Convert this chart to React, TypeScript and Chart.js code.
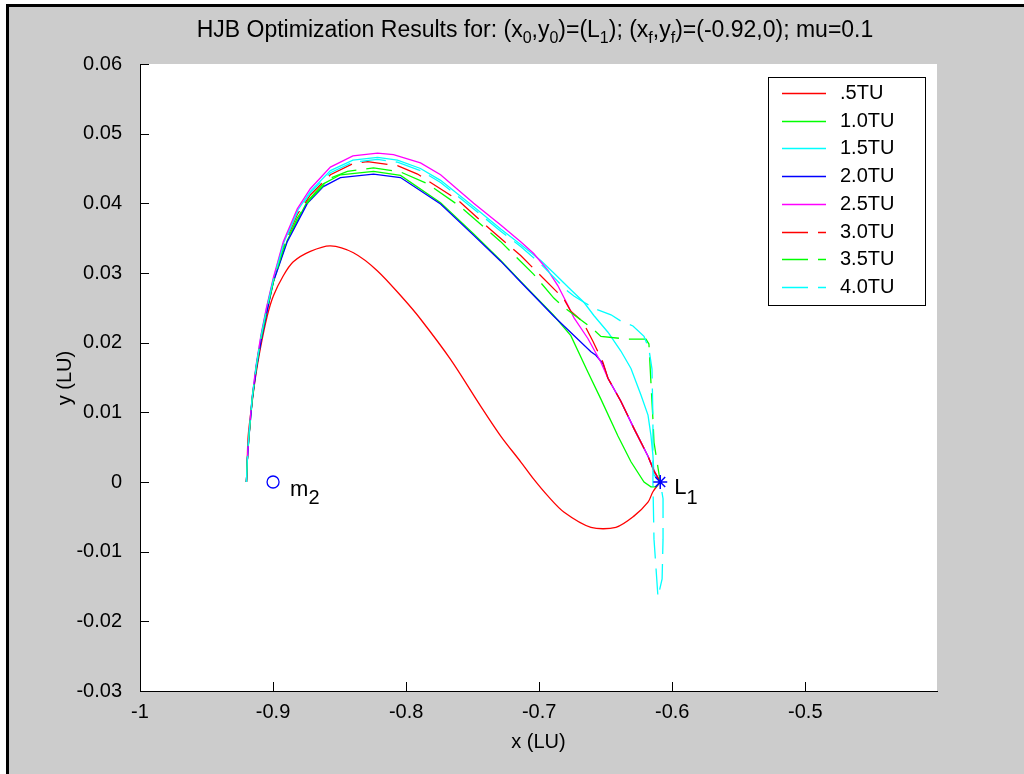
import React, { useEffect, useRef } from "react";
import { Chart, registerables } from "chart.js";

Chart.register(...registerables);

// ---------- data (LU) ----------
const seriesLabels = [".5TU", "1.0TU", "1.5TU", "2.0TU", "2.5TU", "3.0TU", "3.5TU", "4.0TU"];
const seriesColors = ["#ff0000", "#00ff00", "#00ffff", "#0000ff", "#ff00ff", "#ff0000", "#00ff00", "#00ffff"];
const seriesDashed = [false, false, false, false, false, true, true, true];
const seriesTension = [0.3, 0, 0, 0, 0, 0, 0, 0];

const t05X = [-0.92, -0.9194, -0.9187, -0.9157, -0.9134, -0.9096, -0.9044, -0.8998, -0.8923, -0.8848, -0.872, -0.8569, -0.8396, -0.8215, -0.802, -0.7892, -0.7666, -0.744, -0.7289, -0.7139, -0.7041, -0.6935, -0.6815, -0.6611, -0.6423, -0.6288, -0.6182, -0.6145, -0.609];
const t05Y = [0, 0.0029, 0.0066, 0.0115, 0.0148, 0.0191, 0.0238, 0.0267, 0.0296, 0.0316, 0.0331, 0.0339, 0.0329, 0.0303, 0.0263, 0.0234, 0.0176, 0.0109, 0.0066, 0.0029, 0.0004, -0.002, -0.0043, -0.0065, -0.0065, -0.0049, -0.0029, -0.0014, 0];

const t10X = [-0.92, -0.9194, -0.9183, -0.9157, -0.9127, -0.909, -0.905, -0.8998, -0.8893, -0.8742, -0.8622, -0.8494, -0.8245, -0.8042, -0.7741, -0.7492, -0.7289, -0.7139, -0.689, -0.6762, -0.6634, -0.6536, -0.6408, -0.631, -0.6212, -0.616, -0.6122, -0.609];
const t10Y = [0, 0.0029, 0.0061, 0.0118, 0.0163, 0.0205, 0.0242, 0.0288, 0.0347, 0.0403, 0.0428, 0.0441, 0.0446, 0.044, 0.0401, 0.0356, 0.0318, 0.0288, 0.0239, 0.021, 0.0158, 0.0119, 0.0066, 0.0029, 0, -0.0007, -0.0007, 0];

const t15X = [-0.92, -0.9194, -0.9183, -0.9157, -0.9127, -0.909, -0.905, -0.8998, -0.8923, -0.8818, -0.872, -0.8569, -0.84, -0.8215, -0.8065, -0.7892, -0.7741, -0.7492, -0.7289, -0.7139, -0.6988, -0.689, -0.6762, -0.6664, -0.6589, -0.6483, -0.6386, -0.631, -0.6235, -0.6182, -0.616, -0.6145, -0.6137, -0.609];
const t15Y = [0, 0.003, 0.0064, 0.0121, 0.0166, 0.021, 0.0248, 0.0291, 0.0342, 0.0389, 0.0417, 0.0447, 0.0462, 0.0466, 0.0462, 0.045, 0.0433, 0.0395, 0.0363, 0.0341, 0.0318, 0.03, 0.0276, 0.0258, 0.0239, 0.0215, 0.0188, 0.0163, 0.0125, 0.0096, 0.0067, 0.0038, 0.001, 0];

const t20X = [-0.92, -0.9194, -0.9183, -0.9157, -0.9127, -0.909, -0.905, -0.8998, -0.8893, -0.8742, -0.8622, -0.8494, -0.8245, -0.8042, -0.7741, -0.7492, -0.7289, -0.7139, -0.689, -0.6611, -0.6574, -0.6521, -0.6483, -0.6386, -0.6288, -0.6182, -0.6137, -0.609];
const t20Y = [0, 0.0028, 0.006, 0.0117, 0.0161, 0.0203, 0.024, 0.0287, 0.0345, 0.04, 0.0424, 0.0437, 0.0442, 0.0437, 0.0399, 0.0354, 0.0317, 0.0287, 0.0238, 0.0187, 0.0182, 0.017, 0.0149, 0.0116, 0.0077, 0.0037, 0.0016, 0];

const t25X = [-0.92, -0.9194, -0.9183, -0.9157, -0.9127, -0.909, -0.905, -0.8998, -0.8923, -0.8818, -0.872, -0.8569, -0.84, -0.8215, -0.8095, -0.7892, -0.7741, -0.7492, -0.7289, -0.7139, -0.7041, -0.6935, -0.686, -0.6785, -0.6739, -0.6634, -0.6536, -0.6483, -0.6386, -0.6288, -0.6182, -0.6137, -0.609];
const t25Y = [0, 0.003, 0.0065, 0.0122, 0.0168, 0.0212, 0.025, 0.0293, 0.0345, 0.0392, 0.0421, 0.0452, 0.0468, 0.0472, 0.047, 0.0458, 0.0441, 0.04, 0.0369, 0.0345, 0.0328, 0.0304, 0.0282, 0.0254, 0.0236, 0.0206, 0.0172, 0.0149, 0.0116, 0.0077, 0.0037, 0.0016, 0];

const t30X = [-0.92, -0.9194, -0.9183, -0.9157, -0.9127, -0.909, -0.905, -0.8998, -0.8923, -0.8818, -0.872, -0.8569, -0.84, -0.8291, -0.8065, -0.7914, -0.7613, -0.7364, -0.7139, -0.7003, -0.6815, -0.6762, -0.6672, -0.6596, -0.6521, -0.6483, -0.6386, -0.6288, -0.6182, -0.6137, -0.609];
const t30Y = [0, 0.0029, 0.0062, 0.012, 0.0165, 0.0208, 0.0246, 0.0289, 0.0338, 0.0384, 0.0412, 0.0441, 0.0457, 0.046, 0.0454, 0.0442, 0.0405, 0.0362, 0.0325, 0.0299, 0.0263, 0.0245, 0.023, 0.0202, 0.0172, 0.0149, 0.0116, 0.0077, 0.0037, 0.0016, 0];

const t35X = [-0.92, -0.9194, -0.9183, -0.9157, -0.9127, -0.909, -0.905, -0.8998, -0.8923, -0.8818, -0.872, -0.8569, -0.8441, -0.8245, -0.8042, -0.7839, -0.759, -0.7289, -0.7041, -0.689, -0.6815, -0.6611, -0.6536, -0.6333, -0.6197, -0.6175, -0.616, -0.6145, -0.6137, -0.609];
const t35Y = [0, 0.0029, 0.0062, 0.0119, 0.0164, 0.0206, 0.0244, 0.0287, 0.0335, 0.0379, 0.0406, 0.0436, 0.0446, 0.0451, 0.0445, 0.0428, 0.0395, 0.0345, 0.0298, 0.0264, 0.0251, 0.0222, 0.0209, 0.0205, 0.0205, 0.0198, 0.0143, 0.009, 0.0057, 0];

const t40X = [-0.92, -0.9194, -0.9183, -0.9157, -0.9127, -0.909, -0.905, -0.8998, -0.8923, -0.8818, -0.872, -0.8569, -0.84, -0.8215, -0.8065, -0.7892, -0.7741, -0.7492, -0.7289, -0.7139, -0.6988, -0.689, -0.68, -0.6739, -0.6664, -0.6574, -0.646, -0.6386, -0.6295, -0.6212, -0.6175, -0.6152, -0.6145, -0.6145, -0.6137, -0.6107, -0.6076, -0.6069, -0.6069, -0.609];
const t40Y = [0, 0.003, 0.0063, 0.0121, 0.0166, 0.0209, 0.0247, 0.029, 0.034, 0.0387, 0.0415, 0.0444, 0.0459, 0.0463, 0.0459, 0.0447, 0.043, 0.0392, 0.036, 0.0338, 0.0313, 0.0294, 0.0276, 0.0267, 0.0258, 0.0248, 0.024, 0.0231, 0.0224, 0.0209, 0.0191, 0.0162, 0.009, 0, -0.0082, -0.0165, -0.0139, -0.0082, -0.0024, 0];

const seriesX = [t05X, t10X, t15X, t20X, t25X, t30X, t35X, t40X];
const seriesY = [t05Y, t10Y, t15Y, t20Y, t25Y, t30Y, t35Y, t40Y];

const m2Point = { x: -0.9, y: 0 };
const l1Point = { x: -0.609, y: 0 };

const xMin = -1;
const xMax = -0.401;
const xStep = 0.1;
const yMin = -0.03;
const yMax = 0.06;
const yStep = 0.01;

const titleParts: [string, boolean][] = [
  ["HJB Optimization Results for: (x", false],
  ["0", true],
  [",y", false],
  ["0", true],
  [")=(L", false],
  ["1", true],
  ["); (x", false],
  ["f", true],
  [",y", false],
  ["f", true],
  [")=(-0.92,0); mu=0.1", false],
];
const xAxisLabel = "x (LU)";
const yAxisLabel = "y (LU)";

const FONT = '"Liberation Sans", Arial, Helvetica, sans-serif';
const FS = 20;
const TITLE_FS = 23;

const decoPlugin = {
  id: "deco",
  beforeDraw(chart: any) {
    const { ctx, width, height, chartArea: ca } = chart;
    ctx.save();
    ctx.fillStyle = "#ffffff";
    ctx.fillRect(0, 0, width, height);
    ctx.fillStyle = "#cccccc";
    ctx.fillRect(9, 7, width - 9, height - 7);
    ctx.fillStyle = "#000000";
    ctx.fillRect(6, 4, 3, height - 4);
    ctx.fillRect(6, 4, width - 6, 3);
    ctx.fillStyle = "#ffffff";
    ctx.fillRect(ca.left, ca.top, ca.right - ca.left, ca.bottom - ca.top);
    ctx.restore();
  },
  afterDraw(chart: any) {
    const { ctx, chartArea: ca } = chart;
    const xs = chart.scales.x;
    const ys = chart.scales.y;
    ctx.save();
    // inward ticks
    ctx.strokeStyle = "#000";
    ctx.lineWidth = 1;
    ctx.beginPath();
    xs.ticks.forEach((t: any) => {
      const px = Math.round(xs.getPixelForValue(t.value)) + 0.5;
      ctx.moveTo(px, ca.bottom);
      ctx.lineTo(px, ca.bottom - 9);
    });
    ys.ticks.forEach((t: any) => {
      const py = Math.round(ys.getPixelForValue(t.value)) + 0.5;
      ctx.moveTo(ca.left, py);
      ctx.lineTo(ca.left + 9, py);
    });
    ctx.stroke();

    // title with subscripts
    ctx.fillStyle = "#000";
    ctx.textBaseline = "alphabetic";
    ctx.textAlign = "left";
    const titleFont = `${TITLE_FS}px ${FONT}`;
    const subFont = `${TITLE_FS - 7}px ${FONT}`;
    let total = 0;
    titleParts.forEach(([s, sub]) => {
      ctx.font = sub ? subFont : titleFont;
      total += ctx.measureText(s).width;
    });
    let tx = 535 - total / 2;
    titleParts.forEach(([s, sub]) => {
      ctx.font = sub ? subFont : titleFont;
      ctx.fillText(s, tx, sub ? 43 : 37);
      tx += ctx.measureText(s).width;
    });

    // axis labels
    const mainFont = `${FS}px ${FONT}`;
    ctx.font = mainFont;
    ctx.textAlign = "center";
    ctx.textBaseline = "middle";
    ctx.fillText(xAxisLabel, (ca.left + ca.right) / 2, 742);
    ctx.save();
    ctx.translate(65, 378);
    ctx.rotate(-Math.PI / 2);
    ctx.fillText(yAxisLabel, 0, 0);
    ctx.restore();

    // point annotations
    ctx.textAlign = "left";
    ctx.textBaseline = "alphabetic";
    const mx = xs.getPixelForValue(m2Point.x);
    const my = ys.getPixelForValue(m2Point.y);
    ctx.font = `${FS + 2}px ${FONT}`;
    ctx.fillText("m", mx + 17, my + 14);
    const mw = ctx.measureText("m").width;
    ctx.font = `${FS}px ${FONT}`;
    ctx.fillText("2", mx + 17 + mw, my + 22);
    const lx = xs.getPixelForValue(l1Point.x);
    const ly = ys.getPixelForValue(l1Point.y);
    ctx.font = `${FS + 2}px ${FONT}`;
    ctx.fillText("L", lx + 14, ly + 12);
    const lw = ctx.measureText("L").width;
    ctx.font = `${FS}px ${FONT}`;
    ctx.fillText("1", lx + 14 + lw, ly + 22);

    // legend
    const lgLeft = 768, lgTop = 77, lgW = 157, lgH = 228;
    ctx.fillStyle = "#ffffff";
    ctx.fillRect(lgLeft, lgTop, lgW, lgH);
    ctx.strokeStyle = "#000";
    ctx.lineWidth = 1;
    ctx.strokeRect(lgLeft + 0.5, lgTop + 0.5, lgW, lgH);
    ctx.font = mainFont;
    ctx.textBaseline = "middle";
    seriesLabels.forEach((lab, i) => {
      const cy = Math.round(93 + i * 27.7) + 0.5;
      ctx.strokeStyle = seriesColors[i];
      ctx.lineWidth = 1.3;
      ctx.setLineDash(seriesDashed[i] ? [26, 10] : []);
      ctx.beginPath();
      ctx.moveTo(782, cy);
      ctx.lineTo(826, cy);
      ctx.stroke();
      ctx.setLineDash([]);
      ctx.fillStyle = "#000";
      ctx.fillText(lab, 840, cy);
    });
    ctx.restore();
  },
};

export default function App() {
  const ref = useRef<HTMLCanvasElement | null>(null);
  useEffect(() => {
    if (!ref.current) return;
    const lineSets = seriesLabels.map((lab, i) => ({
      label: lab,
      data: seriesX[i].map((x, k) => ({ x, y: seriesY[i][k] })),
      showLine: true,
      borderColor: seriesColors[i],
      backgroundColor: seriesColors[i],
      borderWidth: 1.3,
      borderDash: seriesDashed[i] ? [26, 10] : [],
      pointRadius: 0,
      pointHoverRadius: 0,
      tension: seriesTension[i],
      fill: false,
      order: 20 - i,
    }));
    const chart = new Chart(ref.current, {
      type: "scatter",
      data: {
        datasets: [
          ...lineSets,
          {
            label: "m2",
            data: [m2Point],
            showLine: false,
            pointStyle: "circle",
            pointRadius: 6,
            borderColor: "#0000ff",
            backgroundColor: "rgba(0,0,0,0)",
            borderWidth: 1.3,
            order: 1,
          },
          {
            label: "L1",
            data: [l1Point],
            showLine: false,
            pointStyle: "star",
            pointRadius: 7,
            borderColor: "#0000ff",
            backgroundColor: "#0000ff",
            borderWidth: 1.5,
            order: 0,
          },
        ],
      },
      options: {
        responsive: false,
        animation: false,
        devicePixelRatio: 1,
        layout: { padding: { left: 0, top: 64, right: 87, bottom: 0 } },
        plugins: {
          legend: { display: false },
          title: { display: false },
          tooltip: { enabled: false },
        },
        scales: {
          x: {
            type: "linear",
            min: xMin,
            max: xMax,
            grid: { display: false, drawTicks: false },
            border: { display: true, color: "#000", width: 1 },
            ticks: {
              stepSize: xStep,
              includeBounds: false,
              color: "#000",
              padding: 9,
              font: { family: FONT, size: FS },
              callback: (v: any) => String(Number(Number(v).toFixed(2))),
            },
            afterFit: (s: any) => {
              s.height = 83;
            },
          },
          y: {
            type: "linear",
            min: yMin,
            max: yMax,
            grid: { display: false, drawTicks: false },
            border: { display: true, color: "#000", width: 1 },
            ticks: {
              stepSize: yStep,
              color: "#000",
              padding: 18,
              font: { family: FONT, size: FS },
              callback: (v: any) => String(Number(Number(v).toFixed(3))),
            },
            afterFit: (s: any) => {
              s.width = 140;
            },
          },
        },
      },
      plugins: [decoPlugin],
    });
    return () => chart.destroy();
  }, []);
  return (
    <div style={{ position: "absolute", left: 0, top: 0, width: 1024, height: 774 }}>
      <canvas ref={ref} width={1024} height={774} style={{ display: "block" }} />
    </div>
  );
}
